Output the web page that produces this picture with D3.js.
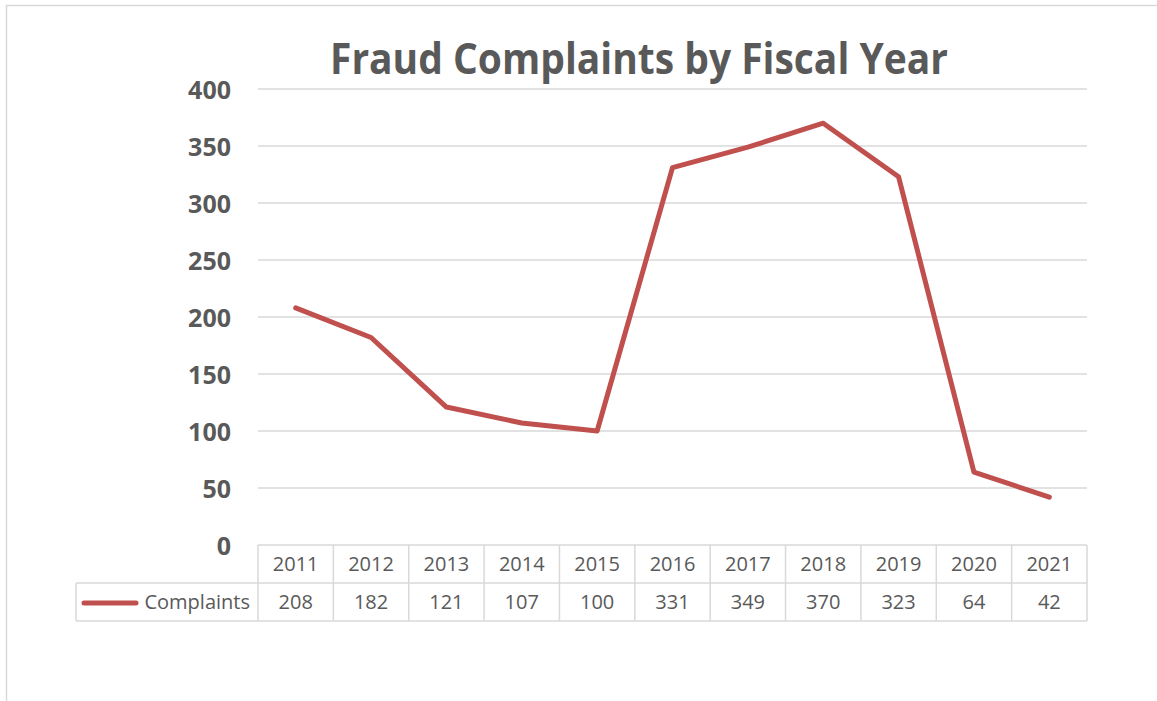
<!DOCTYPE html>
<html>
<head>
<meta charset="utf-8">
<script src="https://cdn.jsdelivr.net/npm/d3@7/dist/d3.min.js"></script>
<style>
  html, body { margin: 0; padding: 0; background: #fff; }
  svg { display: block; }
  text { font-family: "Open Sans", "Noto Sans", sans-serif; fill: #595959; }
</style>
</head>
<body>
<svg id="chart" width="1157" height="701"></svg>
<script>
const years = ["2011","2012","2013","2014","2015","2016","2017","2018","2019","2020","2021"];
const complaints = [208, 182, 121, 107, 100, 331, 349, 370, 323, 64, 42];
const yTicks = [0, 50, 100, 150, 200, 250, 300, 350, 400];
const seriesName = "Complaints";
const titleText = "Fraud Complaints by Fiscal Year";

const svg = d3.select("#chart");
const W = 1157, H = 701;
const plot = { left: 258, right: 1087, top: 89, bottom: 545 };
const rowH = 38;
const legendLeft = 76;
const gridColor = "#d9d9d9";
const lineColor = "#C0504D";

// outer frame
svg.append("path")
  .attr("d", `M6.5,${H} L6.5,5.5 L${W},5.5`)
  .attr("fill", "none").attr("stroke", gridColor).attr("stroke-width", 1.5);

const x = d3.scaleBand().domain(years).range([plot.left, plot.right]);
const y = d3.scaleLinear().domain([0, 400]).range([plot.bottom, plot.top]);

// gridlines
svg.append("g").selectAll("line").data(yTicks.filter(t => t > 0)).join("line")
  .attr("x1", plot.left).attr("x2", plot.right)
  .attr("y1", d => y(d)).attr("y2", d => y(d))
  .attr("stroke", gridColor).attr("stroke-width", 1.5);

// y axis labels
const yAxis = d3.axisLeft(y).tickValues(yTicks).tickSize(0).tickPadding(0);
const yg = svg.append("g").attr("transform", `translate(231,0)`).call(yAxis);
yg.select(".domain").remove();
yg.selectAll("text")
  .attr("font-size", 25).attr("font-weight", "bold")
  .attr("font-family", "'Open Sans', sans-serif")
  .attr("fill", "#595959").attr("dy", "0.36em");

// title
svg.append("text")
  .attr("x", 639).attr("y", 74)
  .attr("text-anchor", "middle")
  .attr("font-size", 43).attr("font-weight", "bold")
  .attr("textLength", 618).attr("lengthAdjust", "spacingAndGlyphs")
  .text(titleText);

// data table
const tY0 = plot.bottom, tY1 = plot.bottom + rowH, tY2 = plot.bottom + 2 * rowH;
const tbl = svg.append("g").attr("fill", "none").attr("stroke", gridColor).attr("stroke-width", 1.5);
// horizontal lines
tbl.append("line").attr("x1", plot.left).attr("x2", plot.right).attr("y1", tY0).attr("y2", tY0);
tbl.append("line").attr("x1", legendLeft).attr("x2", plot.right).attr("y1", tY1).attr("y2", tY1);
tbl.append("line").attr("x1", legendLeft).attr("x2", plot.right).attr("y1", tY2).attr("y2", tY2);
// vertical lines
tbl.append("line").attr("x1", legendLeft).attr("x2", legendLeft).attr("y1", tY1).attr("y2", tY2);
const bounds = years.map(d => x(d)).concat([plot.right]);
tbl.selectAll("line.v").data(bounds).join("line").attr("class", "v")
  .attr("x1", d => d).attr("x2", d => d).attr("y1", tY0).attr("y2", tY2);

// header texts
svg.append("g").selectAll("text").data(years).join("text")
  .attr("x", d => x(d) + x.bandwidth() / 2).attr("y", tY0 + rowH / 2)
  .attr("dy", "0.36em").attr("text-anchor", "middle").attr("font-size", 20)
  .text(d => d);
// values
svg.append("g").selectAll("text").data(complaints).join("text")
  .attr("x", (d, i) => x(years[i]) + x.bandwidth() / 2).attr("y", tY1 + rowH / 2)
  .attr("dy", "0.36em").attr("text-anchor", "middle").attr("font-size", 20)
  .text(d => d);
// legend key
svg.append("line")
  .attr("x1", 84).attr("x2", 136).attr("y1", tY1 + rowH / 2 + 1).attr("y2", tY1 + rowH / 2 + 1)
  .attr("stroke", lineColor).attr("stroke-width", 5).attr("stroke-linecap", "round");
svg.append("text")
  .attr("x", 250).attr("y", tY1 + rowH / 2).attr("dy", "0.36em")
  .attr("text-anchor", "end").attr("font-size", 20)
  .text(seriesName);

// line
const line = d3.line()
  .x((d, i) => x(years[i]) + x.bandwidth() / 2)
  .y(d => y(d));
svg.append("path")
  .datum(complaints)
  .attr("d", line)
  .attr("fill", "none").attr("stroke", lineColor)
  .attr("stroke-width", 5).attr("stroke-linejoin", "round").attr("stroke-linecap", "round");
</script>
</body>
</html>
